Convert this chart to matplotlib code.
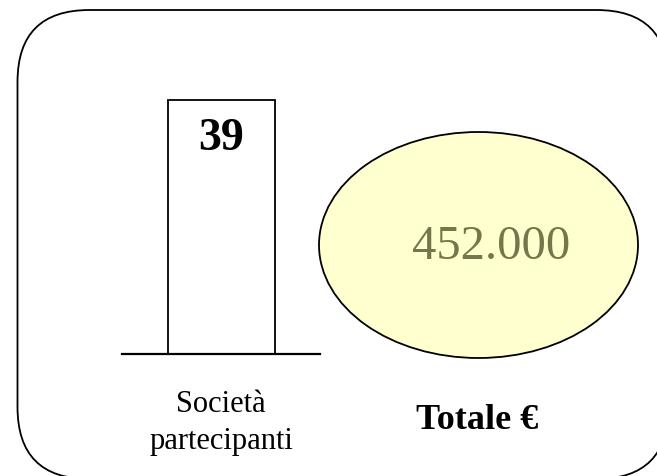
"""Società partecipanti / Totale € -- a two-figure summary card."""
import matplotlib
matplotlib.use("Agg")
import matplotlib.pyplot as plt
from matplotlib.patches import FancyBboxPatch, Ellipse

# data
labels = ["Società\npartecipanti", "Totale €"]
values = [39, 452000]
value_texts = ["39", "452.000"]

W, H = 657, 477
plt.rcParams["font.family"] = ["Liberation Serif", "DejaVu Serif"]

fig = plt.figure(figsize=(W / 100, H / 100), dpi=100)

# background axes in pixel coordinates
ax0 = fig.add_axes([0, 0, 1, 1])
ax0.set_xlim(0, W)
ax0.set_ylim(H, 0)
ax0.axis("off")

card = FancyBboxPatch((17.5, 11), 651, 469,
                      boxstyle="round,pad=0,rounding_size=72",
                      fc="white", ec="black", lw=1.3)
ax0.add_patch(card)

# bar for the first figure
x0, x1, y_top, y_base = 122, 320, 101, 355
ax_bar = fig.add_axes([x0 / W, (H - y_base) / H, (x1 - x0) / W, (y_base - y_top) / H])
ax_bar.bar(0, values[0], width=107 / (x1 - x0), color="white",
           edgecolor="black", lw=1.3, clip_on=False)
ax_bar.set_xlim(-0.5, 0.5)
ax_bar.set_ylim(0, values[0])
ax_bar.patch.set_alpha(0)
for s in ("top", "left", "right"):
    ax_bar.spines[s].set_visible(False)
ax_bar.spines["bottom"].set_linewidth(1.6)
ax_bar.set_xticks([])
ax_bar.set_yticks([])
ax_bar.annotate(value_texts[0], xy=(0, values[0]), xytext=(0, -27),
                textcoords="offset points", ha="center", va="center",
                fontsize=33, fontweight="bold")
ax_bar.annotate(labels[0], xy=(0, 0), xytext=(0, -49),
                textcoords="offset points", ha="center", va="center",
                fontsize=22, linespacing=1.4)

# ellipse for the total
ell = Ellipse((478.5, 246), 319, 226, fc="#FFFFD0", ec="black", lw=1.3)
ax0.add_patch(ell)
ax0.text(491, 247, value_texts[1], ha="center", va="center",
         fontsize=35, color="#76764C")
ax0.text(477, 421, labels[1], ha="center", va="center",
         fontsize=26, fontweight="bold")

fig.savefig("out.png", dpi=100)
